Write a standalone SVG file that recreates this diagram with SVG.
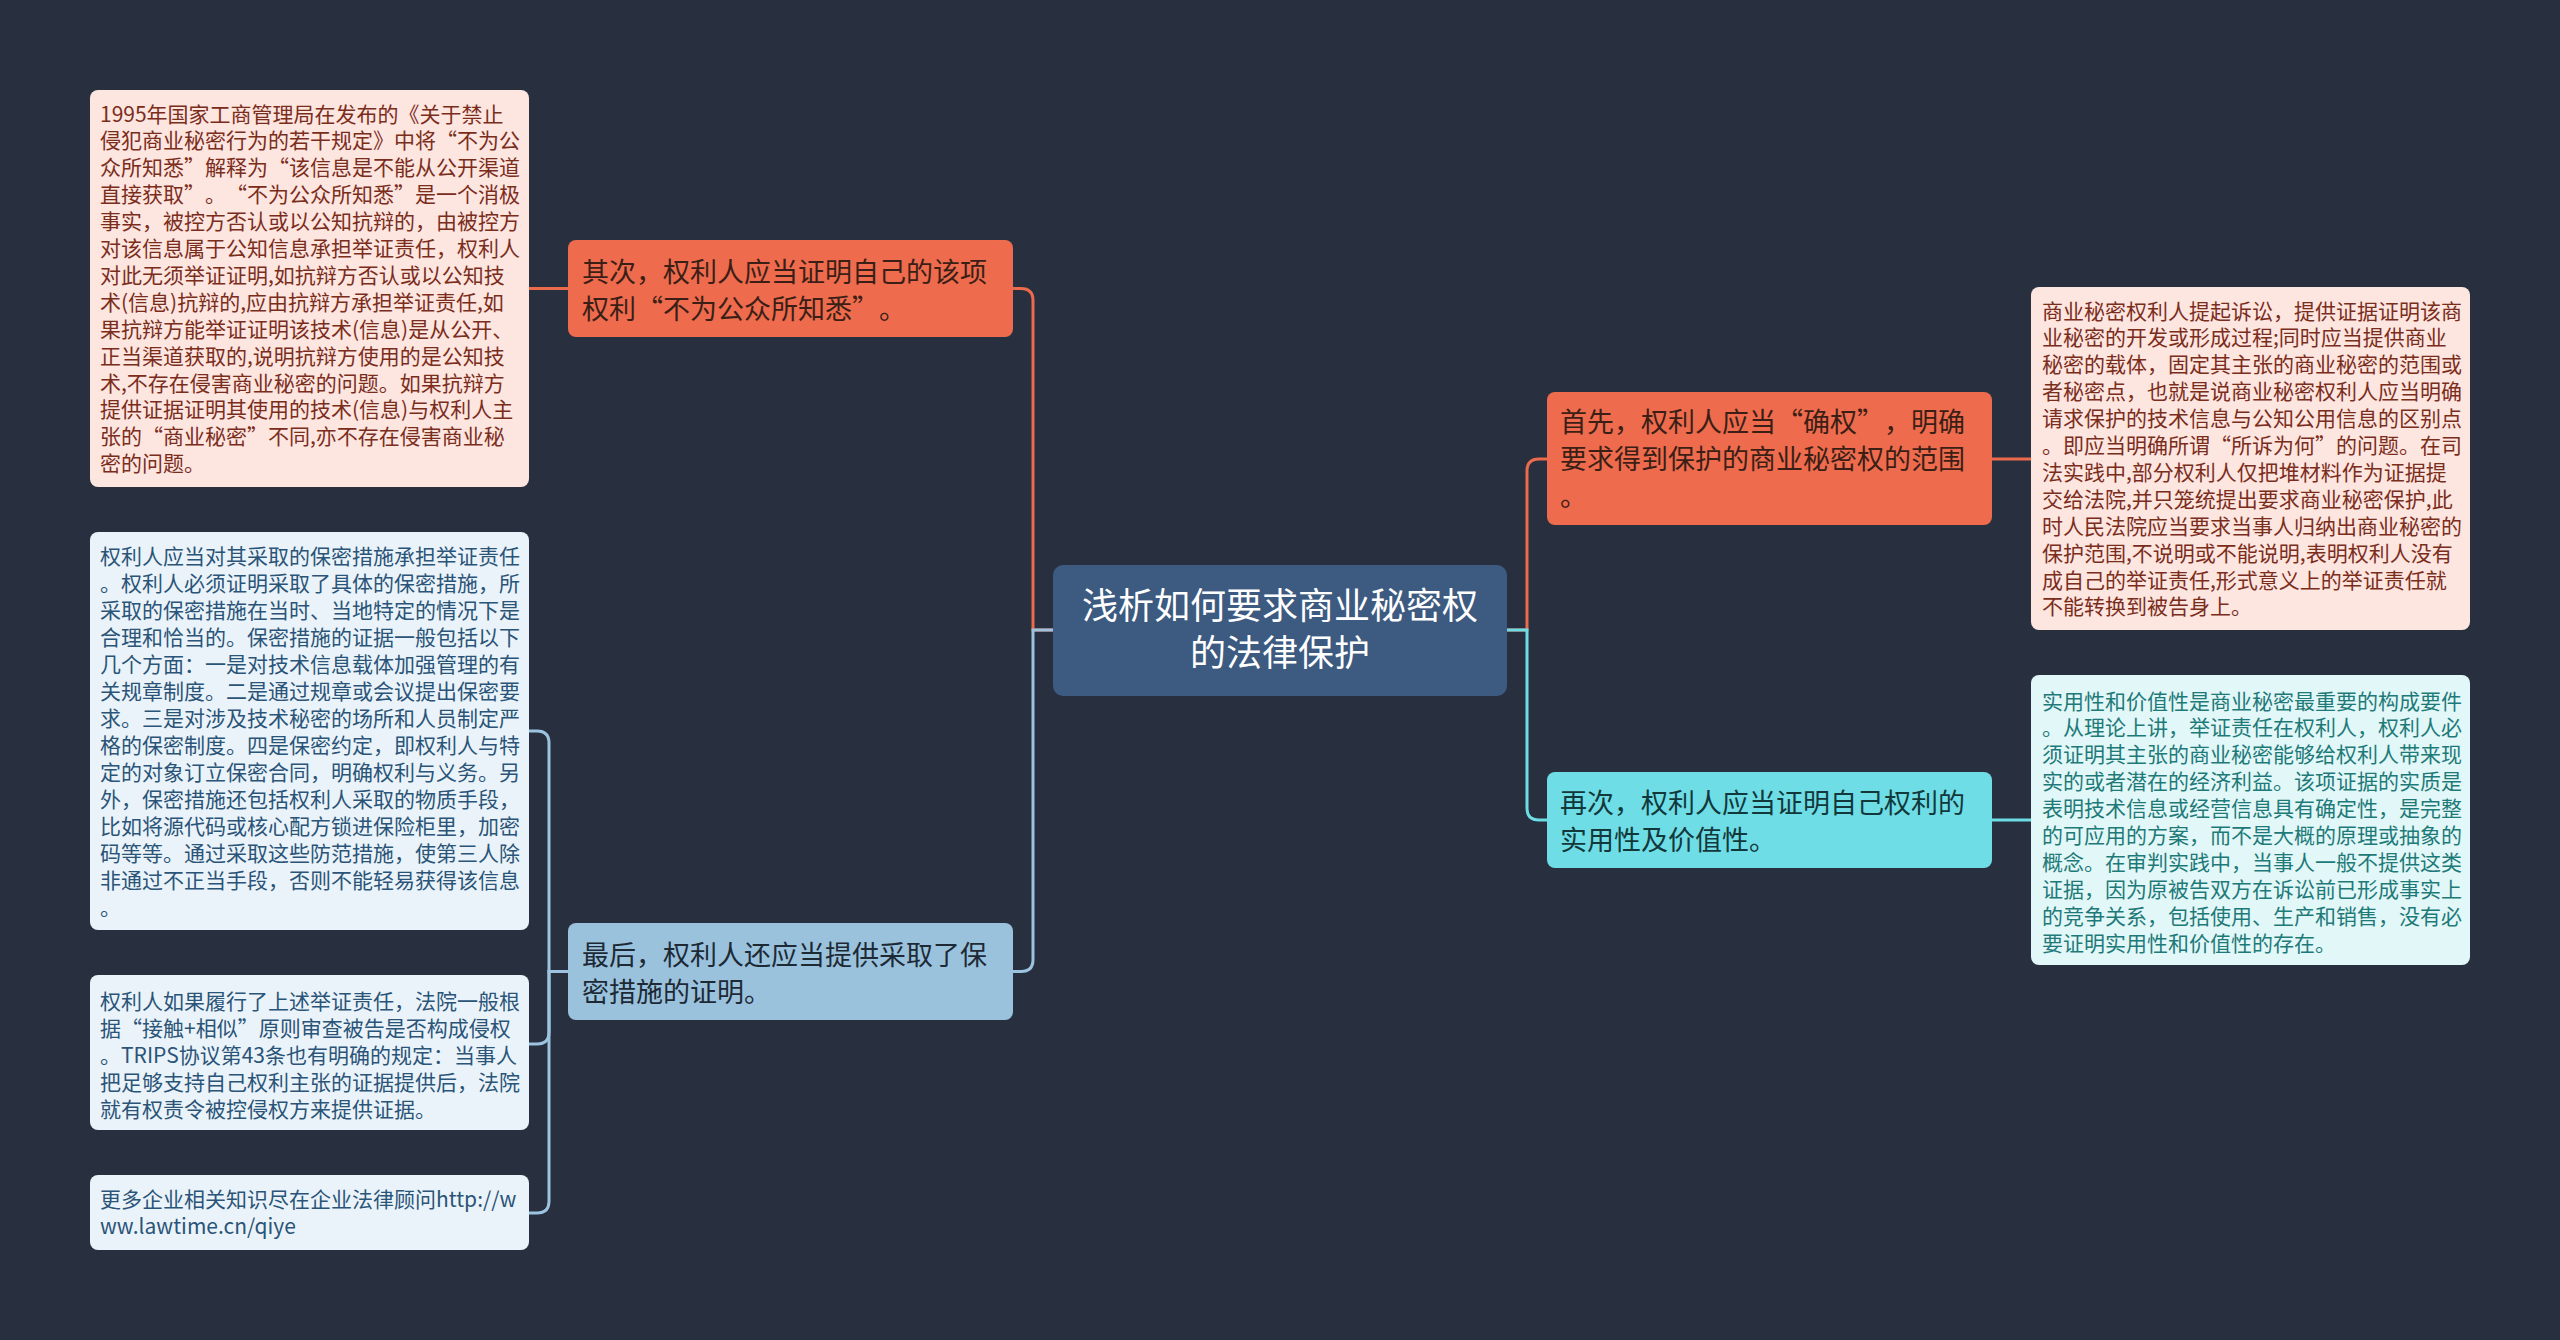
<svg xmlns="http://www.w3.org/2000/svg" width="2560" height="1340" viewBox="0 0 2560 1340">
<style>
text{font-family:"Noto Sans CJK SC","Noto Sans",sans-serif;text-spacing-trim:space-all;}
.q{font-feature-settings:"fwid" 1;}
.c{fill:none;stroke-width:3;}
.co{stroke:#ec6b4d;}
.cb{stroke:#9cc3df;}
.cc{stroke:#6cdde5;}
.leaf{font-size:21px;}
.br{font-size:27px;}
.ctr{font-size:36px;fill:#ffffff;text-anchor:middle;}
</style>
<rect x="0" y="0" width="2560" height="1340" fill="#283040"/>
<g id="connectors">
<path class="c co" d="M1053,630 H1033 V300.5 Q1033,288.5 1021,288.5 H1013"/>
<path class="c cb" d="M1053,630 H1033 V959.5 Q1033,971.5 1021,971.5 H1013"/>
<path class="c co" d="M1507,630 H1527 V471 Q1527,459 1539,459 H1547"/>
<path class="c cc" d="M1507,630 H1527 V808 Q1527,820 1539,820 H1547"/>
<path class="c co" d="M568,288.5 H529"/>
<path class="c cb" d="M569,971.5 H549 V743 Q549,731 537,731 H529"/>
<path class="c cb" d="M569,971.5 H549 V1032 Q549,1044 537,1044 H529"/>
<path class="c cb" d="M569,971.5 H549 V1201 Q549,1213 537,1213 H529"/>
<path class="c co" d="M1992,459 H2031"/>
<path class="c cc" d="M1992,820 H2031"/>
</g>
<g id="center">
<rect x="1053" y="565" width="454" height="131" rx="10" fill="#3d5a80"/>
<text class="ctr" x="1280" y="619">浅析如何要求商业秘密权</text>
<text class="ctr" x="1280" y="666">的法律保护</text>
</g>
<g id="branch-qici">
<rect x="568" y="240" width="445" height="97" rx="8" fill="#ee6b4d"/>
<text class="br" fill="#3b1f16"><tspan x="582" y="282">其次，权利人应当证明自己的该项</tspan><tspan x="582" y="319">权利<tspan class="q">“</tspan>不为公众所知悉<tspan class="q">”</tspan>。</tspan></text>
</g>
<g id="branch-zuihou">
<rect x="568" y="923" width="445" height="97" rx="8" fill="#9ac2dd"/>
<text class="br" fill="#1d2a36"><tspan x="582" y="965">最后，权利人还应当提供采取了保</tspan><tspan x="582" y="1002">密措施的证明。</tspan></text>
</g>
<g id="branch-shouxian">
<rect x="1547" y="392" width="445" height="133" rx="8" fill="#ee6b4d"/>
<text class="br" fill="#3b1f16"><tspan x="1560" y="432">首先，权利人应当<tspan class="q">“</tspan>确权<tspan class="q">”</tspan>，明确</tspan><tspan x="1560" y="469">要求得到保护的商业秘密权的范围</tspan><tspan x="1560" y="506">。</tspan></text>
</g>
<g id="branch-zaici">
<rect x="1547" y="772" width="445" height="96" rx="8" fill="#6fdde5"/>
<text class="br" fill="#12383b"><tspan x="1560" y="813">再次，权利人应当证明自己权利的</tspan><tspan x="1560" y="850">实用性及价值性。</tspan></text>
</g>
<g id="leaf-1">
<rect x="90" y="90" width="439" height="397" rx="8" fill="#fde5e0"/>
<text class="leaf" fill="#7b2d1c">
<tspan x="100" y="121.5">1995年国家工商管理局在发布的《关于禁止</tspan>
<tspan x="100" y="148.4">侵犯商业秘密行为的若干规定》中将<tspan class="q">“</tspan>不为公</tspan>
<tspan x="100" y="175.3">众所知悉<tspan class="q">”</tspan>解释为<tspan class="q">“</tspan>该信息是不能从公开渠道</tspan>
<tspan x="100" y="202.2">直接获取<tspan class="q">”</tspan>。<tspan class="q">“</tspan>不为公众所知悉<tspan class="q">”</tspan>是一个消极</tspan>
<tspan x="100" y="229.1">事实，被控方否认或以公知抗辩的，由被控方</tspan>
<tspan x="100" y="256">对该信息属于公知信息承担举证责任，权利人</tspan>
<tspan x="100" y="282.9">对此无须举证证明,如抗辩方否认或以公知技</tspan>
<tspan x="100" y="309.8">术(信息)抗辩的,应由抗辩方承担举证责任,如</tspan>
<tspan x="100" y="336.7">果抗辩方能举证证明该技术(信息)是从公开、</tspan>
<tspan x="100" y="363.6">正当渠道获取的,说明抗辩方使用的是公知技</tspan>
<tspan x="100" y="390.5">术,不存在侵害商业秘密的问题。如果抗辩方</tspan>
<tspan x="100" y="417.4">提供证据证明其使用的技术(信息)与权利人主</tspan>
<tspan x="100" y="444.3">张的<tspan class="q">“</tspan>商业秘密<tspan class="q">”</tspan>不同,亦不存在侵害商业秘</tspan>
<tspan x="100" y="471.2">密的问题。</tspan>
</text>
</g>
<g id="leaf-2">
<rect x="90" y="532" width="439" height="398" rx="8" fill="#eaf3f9"/>
<text class="leaf" fill="#2a5478">
<tspan x="100" y="564">权利人应当对其采取的保密措施承担举证责任</tspan>
<tspan x="100" y="591">。权利人必须证明采取了具体的保密措施，所</tspan>
<tspan x="100" y="618">采取的保密措施在当时、当地特定的情况下是</tspan>
<tspan x="100" y="645">合理和恰当的。保密措施的证据一般包括以下</tspan>
<tspan x="100" y="672">几个方面：一是对技术信息载体加强管理的有</tspan>
<tspan x="100" y="699">关规章制度。二是通过规章或会议提出保密要</tspan>
<tspan x="100" y="726">求。三是对涉及技术秘密的场所和人员制定严</tspan>
<tspan x="100" y="753">格的保密制度。四是保密约定，即权利人与特</tspan>
<tspan x="100" y="780">定的对象订立保密合同，明确权利与义务。另</tspan>
<tspan x="100" y="807">外，保密措施还包括权利人采取的物质手段，</tspan>
<tspan x="100" y="834">比如将源代码或核心配方锁进保险柜里，加密</tspan>
<tspan x="100" y="861">码等等。通过采取这些防范措施，使第三人除</tspan>
<tspan x="100" y="888">非通过不正当手段，否则不能轻易获得该信息</tspan>
<tspan x="100" y="915">。</tspan>
</text>
</g>
<g id="leaf-3">
<rect x="90" y="975" width="439" height="155" rx="8" fill="#eaf3f9"/>
<text class="leaf" fill="#2a5478">
<tspan x="100" y="1009">权利人如果履行了上述举证责任，法院一般根</tspan>
<tspan x="100" y="1036">据<tspan class="q">“</tspan>接触+相似<tspan class="q">”</tspan>原则审查被告是否构成侵权</tspan>
<tspan x="100" y="1063">。TRIPS协议第43条也有明确的规定：当事人</tspan>
<tspan x="100" y="1090">把足够支持自己权利主张的证据提供后，法院</tspan>
<tspan x="100" y="1117">就有权责令被控侵权方来提供证据。</tspan>
</text>
</g>
<g id="leaf-4">
<rect x="90" y="1175" width="439" height="75" rx="8" fill="#eaf3f9"/>
<text class="leaf" fill="#2a5478">
<tspan x="100" y="1207">更多企业相关知识尽在企业法律顾问http://w</tspan>
<tspan x="100" y="1234">ww.lawtime.cn/qiye</tspan>
</text>
</g>
<g id="leaf-5">
<rect x="2031" y="287" width="439" height="343" rx="8" fill="#fde5e0"/>
<text class="leaf" fill="#7b2d1c">
<tspan x="2042" y="318.5">商业秘密权利人提起诉讼，提供证据证明该商</tspan>
<tspan x="2042" y="345.4">业秘密的开发或形成过程;同时应当提供商业</tspan>
<tspan x="2042" y="372.3">秘密的载体，固定其主张的商业秘密的范围或</tspan>
<tspan x="2042" y="399.2">者秘密点，也就是说商业秘密权利人应当明确</tspan>
<tspan x="2042" y="426.1">请求保护的技术信息与公知公用信息的区别点</tspan>
<tspan x="2042" y="453">。即应当明确所谓<tspan class="q">“</tspan>所诉为何<tspan class="q">”</tspan>的问题。在司</tspan>
<tspan x="2042" y="479.9">法实践中,部分权利人仅把堆材料作为证据提</tspan>
<tspan x="2042" y="506.8">交给法院,并只笼统提出要求商业秘密保护,此</tspan>
<tspan x="2042" y="533.7">时人民法院应当要求当事人归纳出商业秘密的</tspan>
<tspan x="2042" y="560.6">保护范围,不说明或不能说明,表明权利人没有</tspan>
<tspan x="2042" y="587.5">成自己的举证责任,形式意义上的举证责任就</tspan>
<tspan x="2042" y="614.4">不能转换到被告身上。</tspan>
</text>
</g>
<g id="leaf-6">
<rect x="2031" y="675" width="439" height="290" rx="8" fill="#e2f7f8"/>
<text class="leaf" fill="#1e7a78">
<tspan x="2042" y="708.5">实用性和价值性是商业秘密最重要的构成要件</tspan>
<tspan x="2042" y="735.4">。从理论上讲，举证责任在权利人，权利人必</tspan>
<tspan x="2042" y="762.3">须证明其主张的商业秘密能够给权利人带来现</tspan>
<tspan x="2042" y="789.2">实的或者潜在的经济利益。该项证据的实质是</tspan>
<tspan x="2042" y="816.1">表明技术信息或经营信息具有确定性，是完整</tspan>
<tspan x="2042" y="843">的可应用的方案，而不是大概的原理或抽象的</tspan>
<tspan x="2042" y="869.9">概念。在审判实践中，当事人一般不提供这类</tspan>
<tspan x="2042" y="896.8">证据，因为原被告双方在诉讼前已形成事实上</tspan>
<tspan x="2042" y="923.7">的竞争关系，包括使用、生产和销售，没有必</tspan>
<tspan x="2042" y="950.6">要证明实用性和价值性的存在。</tspan>
</text>
</g>
</svg>
